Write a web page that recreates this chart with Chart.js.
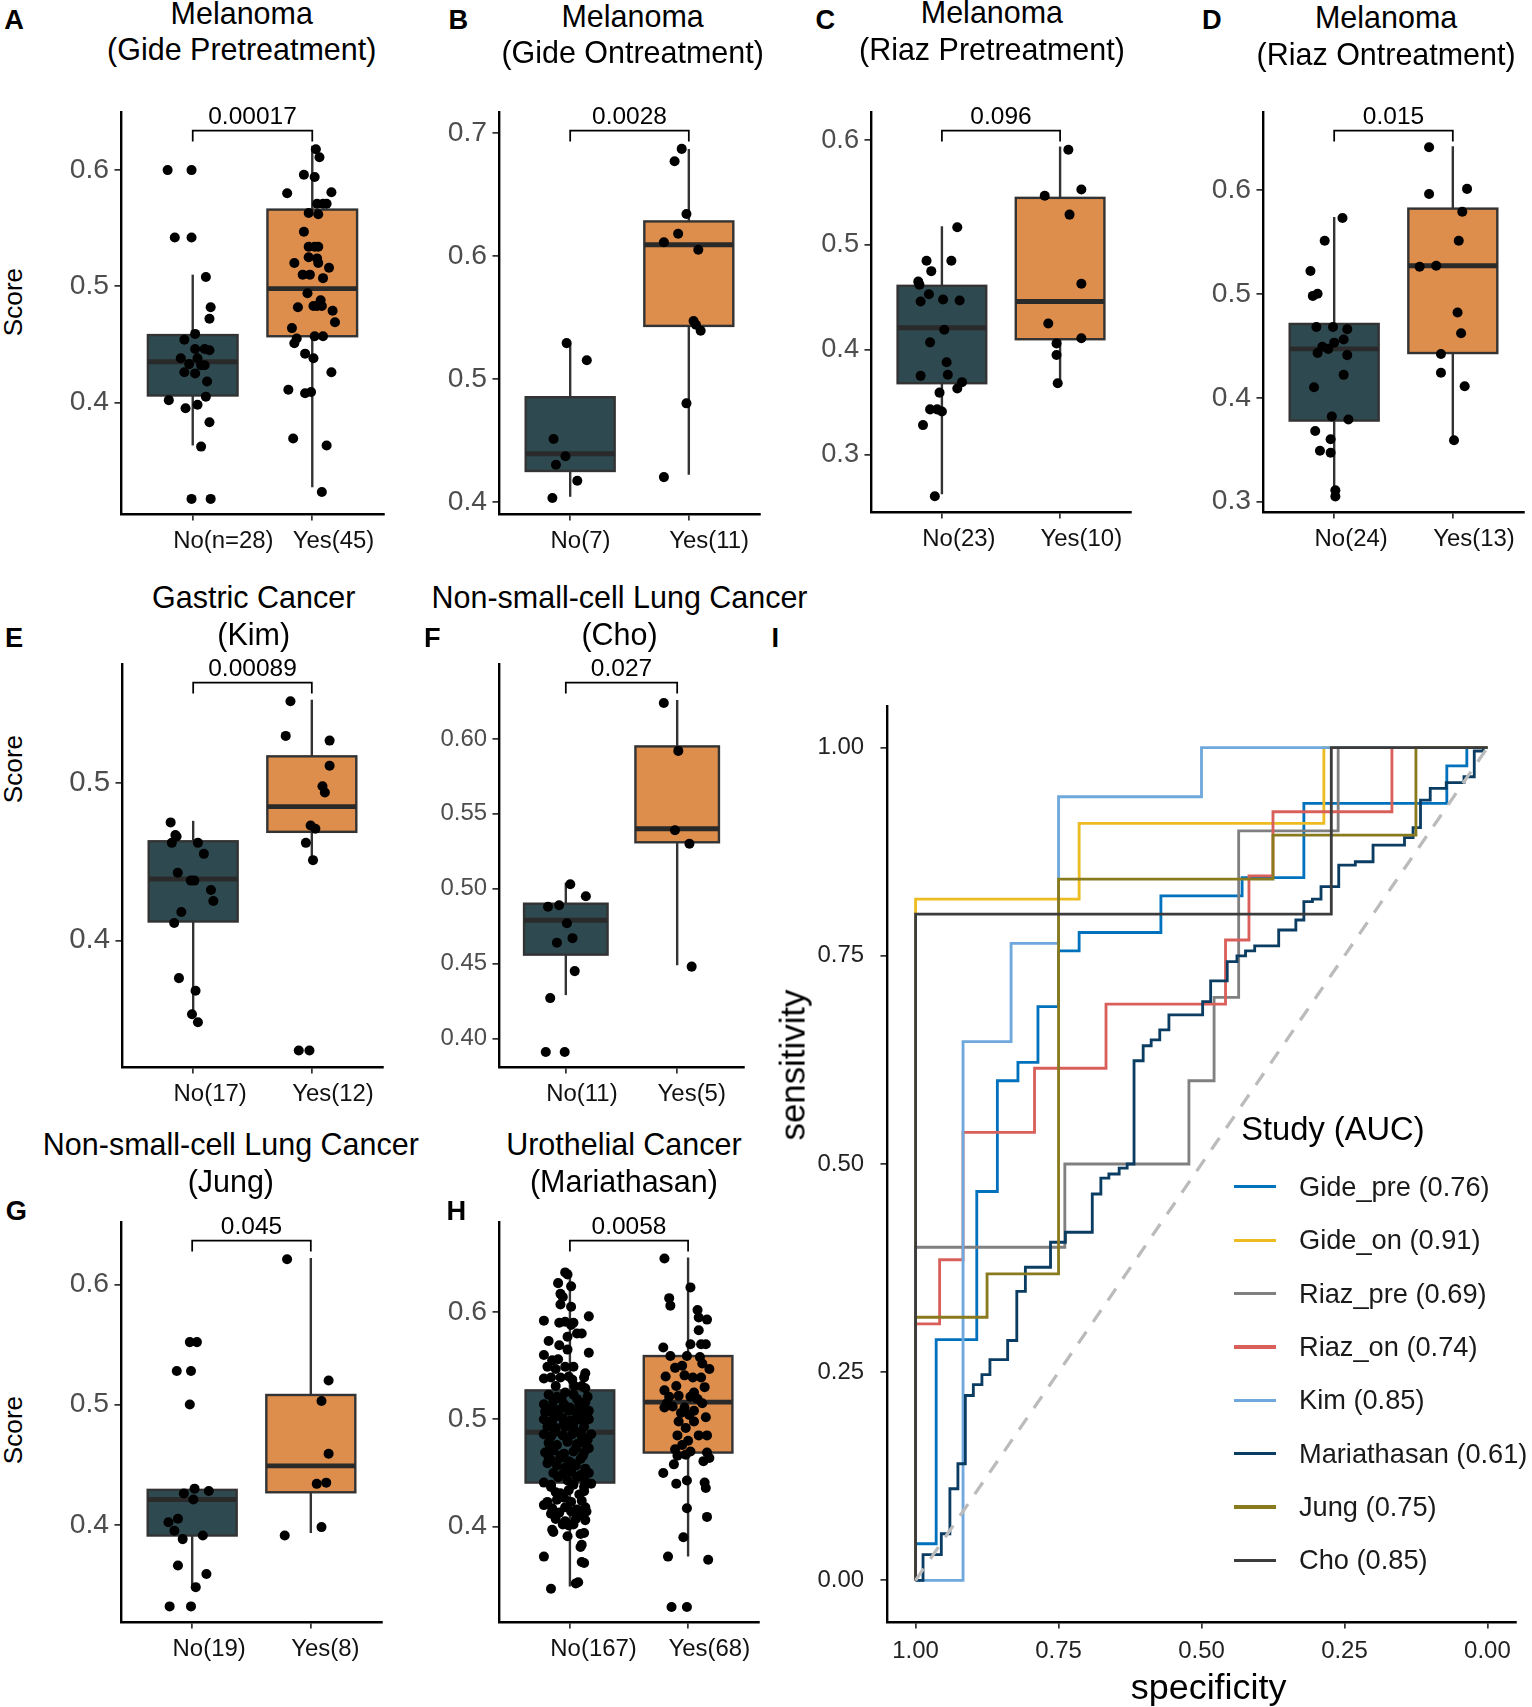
<!DOCTYPE html>
<html lang="en">
<head>
<meta charset="UTF-8">
<title>Score by response and ROC curves</title>
<script src="https://cdn.jsdelivr.net/npm/chart.js"></script>
<style>
body { margin: 0; background: #fff; }
#fig { position: relative; width: 1532px; height: 1707px; overflow: hidden; font-family: "Liberation Sans", Arial, sans-serif; }
.t { position: absolute; white-space: nowrap; color: #000; line-height: 1; }
canvas { position: absolute; }
</style>
</head>
<body>
<div id="fig"></div>
<script>
// ---- box panels: [jitter, score] per patient, box = [lower whisker, q1, median, q3, upper whisker]
const aLabels = ['No(n=28)', 'Yes(45)'];
const aTicks = [0.4, 0.5, 0.6];
const aBox = [[0.363, 0.406, 0.435, 0.458, 0.510], [0.327, 0.457, 0.498, 0.566, 0.621]];
const aNo = [[-0.21,0.600],[-0.01,0.600],[-0.15,0.542],[-0.01,0.542],[0.11,0.508],[0.15,0.482],[0.14,0.472],[0.02,0.459],[-0.07,0.454],[0.02,0.446],[0.10,0.446],[0.14,0.445],[-0.10,0.438],[0.04,0.438],[-0.03,0.433],[0.07,0.432],[0.10,0.432],[-0.07,0.426],[0.02,0.425],[0.12,0.418],[0.11,0.405],[0.04,0.398],[-0.20,0.402],[-0.06,0.395],[0.14,0.383],[0.07,0.362],[-0.01,0.317],[0.15,0.317]];
const aYes = [[0.03,0.618],[0.06,0.611],[-0.07,0.596],[0.02,0.594],[-0.21,0.580],[0.16,0.581],[0.04,0.571],[0.09,0.571],[0.12,0.571],[-0.03,0.563],[0.05,0.562],[-0.07,0.547],[-0.03,0.534],[0.02,0.534],[0.05,0.534],[-0.03,0.525],[0.04,0.524],[-0.15,0.520],[0.05,0.520],[0.14,0.516],[-0.08,0.510],[-0.02,0.510],[0.09,0.507],[-0.04,0.494],[0.07,0.488],[0.01,0.483],[0.04,0.483],[0.08,0.483],[-0.12,0.482],[0.17,0.479],[0.19,0.469],[-0.17,0.464],[-0.13,0.455],[-0.15,0.451],[0.02,0.457],[0.09,0.457],[-0.06,0.442],[0.01,0.438],[0.16,0.426],[-0.20,0.411],[-0.06,0.408],[-0.01,0.409],[-0.16,0.369],[0.12,0.363],[0.08,0.323]];

const bLabels = ['No(7)', 'Yes(11)'];
const bTicks = [0.4, 0.5, 0.6, 0.7];
const bBox = [[0.404, 0.425, 0.439, 0.485, 0.529], [0.422, 0.543, 0.609, 0.628, 0.687]];
const bNo = [[-0.03,0.529],[0.14,0.515],[-0.14,0.451],[-0.04,0.437],[-0.12,0.430],[0.06,0.417],[-0.15,0.403]];
const bYes = [[-0.06,0.687],[-0.12,0.677],[-0.02,0.634],[-0.09,0.618],[-0.21,0.611],[0.08,0.605],[0.04,0.547],[0.06,0.544],[0.10,0.539],[-0.02,0.480],[-0.21,0.420]];

const cLabels = ['No(23)', 'Yes(10)'];
const cTicks = [0.3, 0.4, 0.5, 0.6];
const cBox = [[0.262, 0.368, 0.421, 0.461, 0.518], [0.367, 0.410, 0.446, 0.545, 0.594]];
const cNo = [[0.13,0.517],[-0.13,0.485],[0.08,0.485],[-0.09,0.475],[-0.20,0.465],[-0.19,0.462],[-0.11,0.453],[-0.18,0.446],[0.01,0.448],[0.15,0.447],[0.02,0.419],[-0.10,0.407],[0.04,0.388],[-0.18,0.375],[0.05,0.376],[0.17,0.369],[0.13,0.363],[-0.02,0.359],[-0.04,0.343],[0.00,0.341],[-0.10,0.343],[-0.16,0.328],[-0.06,0.260]];
const cYes = [[0.07,0.591],[-0.13,0.547],[0.18,0.553],[0.08,0.529],[0.18,0.463],[-0.10,0.425],[0.18,0.411],[-0.03,0.406],[-0.03,0.395],[-0.02,0.368]];

const dLabels = ['No(24)', 'Yes(13)'];
const dTicks = [0.3, 0.4, 0.5, 0.6];
const dBox = [[0.308, 0.378, 0.447, 0.471, 0.574], [0.359, 0.443, 0.527, 0.582, 0.642]];
const dNo = [[0.07,0.573],[-0.08,0.551],[-0.20,0.522],[-0.18,0.498],[-0.14,0.500],[-0.15,0.468],[-0.01,0.468],[0.11,0.466],[0.08,0.456],[0.00,0.453],[-0.10,0.449],[-0.05,0.447],[-0.14,0.443],[0.11,0.441],[0.08,0.422],[-0.17,0.410],[-0.02,0.382],[0.12,0.379],[-0.16,0.368],[-0.03,0.360],[-0.12,0.349],[-0.03,0.347],[0.01,0.311],[0.01,0.305]];
const dYes = [[-0.20,0.641],[-0.20,0.596],[0.12,0.601],[0.08,0.579],[0.05,0.551],[-0.28,0.526],[-0.14,0.527],[0.04,0.482],[0.07,0.462],[-0.10,0.442],[-0.10,0.424],[0.10,0.411],[0.01,0.359]];

const eLabels = ['No(17)', 'Yes(12)'];
const eTicks = [0.4, 0.5];
const eBox = [[0.352, 0.412, 0.439, 0.463, 0.476], [0.453, 0.469, 0.485, 0.517, 0.553]];
const eNo = [[-0.19,0.475],[-0.15,0.467],[-0.14,0.466],[-0.18,0.462],[0.04,0.462],[0.09,0.455],[-0.13,0.443],[-0.02,0.438],[0.01,0.438],[0.15,0.432],[0.17,0.425],[-0.10,0.418],[-0.16,0.411],[-0.12,0.376],[0.02,0.368],[-0.01,0.353],[0.04,0.348]];
const eYes = [[-0.18,0.552],[-0.22,0.530],[0.15,0.527],[0.15,0.511],[0.09,0.498],[0.11,0.494],[-0.01,0.473],[0.03,0.471],[-0.05,0.462],[0.01,0.451],[-0.11,0.330],[-0.02,0.330]];

const fLabels = ['No(11)', 'Yes(5)'];
const fTicks = [0.40, 0.45, 0.50, 0.55, 0.60];
const fBox = [[0.429, 0.456, 0.479, 0.490, 0.504], [0.449, 0.531, 0.540, 0.595, 0.626]];
const fNo = [[0.04,0.503],[0.18,0.495],[-0.16,0.488],[-0.06,0.489],[0.01,0.477],[0.06,0.467],[-0.08,0.464],[0.08,0.445],[-0.14,0.427],[-0.18,0.391],[-0.01,0.391]];
const fYes = [[-0.12,0.624],[0.01,0.592],[-0.02,0.539],[0.11,0.530],[0.13,0.448]];

const gLabels = ['No(19)', 'Yes(8)'];
const gTicks = [0.4, 0.5, 0.6];
const gBox = [[0.349, 0.391, 0.421, 0.429, 0.429], [0.393, 0.427, 0.449, 0.508, 0.622]];
const gNo = [[-0.02,0.552],[0.04,0.552],[-0.13,0.528],[-0.01,0.528],[-0.02,0.500],[0.02,0.430],[0.14,0.428],[-0.07,0.426],[0.01,0.421],[-0.12,0.405],[-0.20,0.402],[-0.15,0.395],[0.09,0.391],[-0.08,0.388],[-0.12,0.366],[0.12,0.359],[0.03,0.348],[-0.19,0.332],[-0.01,0.332]];
const gYes = [[-0.20,0.621],[0.15,0.520],[0.09,0.503],[0.15,0.459],[0.05,0.434],[0.13,0.435],[0.09,0.398],[-0.22,0.391]];

const hLabels = ['No(167)', 'Yes(68)'];
const hTicks = [0.4, 0.5, 0.6];
const hBox = [[0.344, 0.441, 0.488, 0.527, 0.639], [0.372, 0.469, 0.516, 0.559, 0.651]];
const hNo = [[-0.04,0.637],[-0.02,0.635],[-0.10,0.627],[0.01,0.624],[-0.08,0.617],[-0.06,0.614],[-0.08,0.607],[0.01,0.605],
  [-0.22,0.592],[0.16,0.596],[-0.09,0.590],[-0.04,0.591],[0.01,0.588],[0.03,0.590],[0.06,0.580],[0.10,0.580],[-0.02,0.577],
  [-0.18,0.573],[-0.09,0.569],[-0.22,0.560],[-0.02,0.565],[0.16,0.562],[-0.15,0.555],[-0.10,0.556],
  [-0.19,0.549],[-0.12,0.547],[-0.04,0.549],[0.03,0.549],[0.13,0.543],[0.12,0.539],
  [-0.22,0.538],[-0.16,0.539],[-0.08,0.539],[-0.01,0.540],[0.02,0.537],[0.13,0.529],[0.15,0.521],
  [-0.18,0.523],[-0.11,0.521],[-0.04,0.525],[0.03,0.523],
  [-0.22,0.514],[-0.14,0.517],[-0.05,0.514],[0.08,0.514],[0.13,0.516],
  [-0.21,0.507],[-0.16,0.507],[-0.09,0.509],[-0.01,0.508],[0.05,0.507],[0.10,0.510],[0.16,0.508],
  [-0.22,0.500],[-0.15,0.499],[-0.06,0.501],[0.01,0.499],[0.09,0.500],[0.16,0.500],
  [-0.19,0.493],[-0.12,0.492],[-0.04,0.493],[0.03,0.491],[0.12,0.493],
  [-0.22,0.486],[-0.16,0.484],[-0.06,0.485],[0.02,0.486],[0.10,0.484],[0.18,0.486],
  [-0.18,0.478],[-0.11,0.476],[-0.02,0.479],[0.06,0.477],[0.13,0.477],
  [-0.21,0.469],[-0.14,0.471],[-0.05,0.468],[0.03,0.470],[0.12,0.469],[0.16,0.473],
  [-0.18,0.464],[-0.16,0.462],[-0.08,0.464],[-0.01,0.461],[0.09,0.463],
  [-0.11,0.457],[-0.04,0.455],[0.05,0.457],[0.13,0.454],
  [-0.14,0.450],[-0.06,0.449],[0.01,0.451],[0.09,0.448],[0.16,0.450],
  [-0.22,0.441],[-0.16,0.439],[-0.02,0.443],[0.03,0.439],[0.13,0.442],[0.18,0.440],
  [-0.12,0.432],[-0.08,0.431],[-0.01,0.434],[0.08,0.430],[0.12,0.433],
  [-0.19,0.423],[-0.11,0.425],[0.01,0.423],[0.10,0.424],
  [-0.22,0.420],[-0.15,0.417],[-0.04,0.418],[0.06,0.416],[0.13,0.418],
  [-0.16,0.412],[-0.09,0.413],[0.01,0.414],[0.09,0.411],[0.14,0.414],
  [-0.12,0.407],[-0.04,0.405],[0.05,0.407],[0.13,0.406],
  [-0.06,0.402],[-0.01,0.401],[0.03,0.402],[-0.15,0.397],[-0.14,0.395],
  [-0.02,0.391],[0.09,0.393],[0.12,0.394],[0.10,0.383],[0.09,0.381],[-0.22,0.372],
  [0.10,0.367],[0.12,0.366],[0.07,0.348],[0.05,0.347],[-0.16,0.342],
  [-0.12,0.531],[0.04,0.531],[0.10,0.531],[-0.07,0.519],[0.06,0.519],[-0.15,0.511],[0.00,0.511],
  [-0.11,0.503],[0.07,0.503],[0.14,0.503],[-0.05,0.496],[0.03,0.496],[-0.13,0.488],[0.09,0.488],
  [-0.02,0.481],[0.15,0.481],[-0.17,0.473],[0.05,0.473],[-0.08,0.466],[0.11,0.466],[-0.19,0.459],
  [0.02,0.459],[-0.10,0.446],[0.06,0.446],[-0.16,0.437],[0.12,0.437],[-0.05,0.427]];
const hYes = [[-0.20,0.650],[0.02,0.623],[-0.16,0.613],[-0.15,0.606],[0.08,0.602],[0.16,0.593],[0.09,0.595],[0.09,0.583],
  [-0.21,0.567],[0.02,0.570],[0.11,0.570],[0.15,0.570],[-0.15,0.559],[-0.01,0.559],[0.10,0.558],[-0.11,0.548],[0.18,0.547],
  [-0.19,0.540],[-0.03,0.541],[0.04,0.539],[0.11,0.539],[-0.10,0.531],[0.14,0.530],[-0.20,0.527],
  [-0.16,0.521],[-0.08,0.522],[0.02,0.521],[0.08,0.519],[-0.20,0.511],[-0.13,0.512],[-0.03,0.511],[0.05,0.508],
  [-0.06,0.506],[0.01,0.504],[0.15,0.502],[-0.02,0.492],[-0.09,0.485],[0.09,0.485],[0.16,0.485],
  [-0.05,0.476],[-0.11,0.472],[-0.09,0.466],[0.02,0.470],[-0.02,0.467],[0.16,0.469],[0.18,0.464],[0.13,0.461],
  [-0.21,0.450],[-0.10,0.440],[-0.01,0.443],[0.14,0.441],[0.15,0.436],[-0.01,0.417],[0.16,0.409],[-0.04,0.390],
  [-0.17,0.372],[0.17,0.369],[-0.14,0.325],[-0.01,0.325],
  [-0.05,0.550],[0.12,0.552],[0.05,0.525],[-0.18,0.515],[0.12,0.515],[-0.08,0.498],[0.05,0.498],[0.00,0.480],[-0.12,0.458]];

// ---- ROC curves: corner points (specificity, sensitivity), drawn as steps
const rocNames = ['Gide_pre', 'Gide_on', 'Riaz_pre', 'Riaz_on', 'Kim', 'Mariathasan', 'Jung', 'Cho'];
const rocAuc = [0.76, 0.91, 0.69, 0.74, 0.85, 0.61, 0.75, 0.85];
const gidePreSpec = [1, 0.964, 0.893, 0.857, 0.821, 0.786, 0.750, 0.714, 0.571, 0.429, 0.321, 0.071, 0.036, 0];
const gidePreSens = [0, 0.044, 0.289, 0.467, 0.600, 0.622, 0.689, 0.756, 0.778, 0.822, 0.844, 0.933, 0.978, 1];
const gideOnSpec = [1, 0.714, 0.286, 0];
const gideOnSens = [0, 0.818, 0.909, 1];
const riazPreSpec = [1, 0.739, 0.522, 0.478, 0.435, 0.261, 0];
const riazPreSens = [0, 0.400, 0.500, 0.600, 0.700, 0.900, 1];
const riazOnSpec = [1, 0.958, 0.917, 0.792, 0.667, 0.458, 0.417, 0.375, 0.167, 0];
const riazOnSens = [0, 0.308, 0.385, 0.538, 0.615, 0.692, 0.769, 0.846, 0.923, 1];
const kimSpec = [1, 0.917, 0.833, 0.750, 0.500, 0];
const kimSens = [0, 0, 0.647, 0.765, 0.941, 1];
const mariSpec = [1, 0.987, 0.955, 0.940, 0.926, 0.913, 0.899, 0.884, 0.870, 0.839, 0.823, 0.808, 0.764, 0.738, 0.691, 0.676, 0.662, 0.644, 0.630, 0.618,
  0.602, 0.588, 0.573, 0.557, 0.498, 0.484, 0.455, 0.438, 0.423, 0.407, 0.365, 0.335, 0.321, 0.306, 0.291, 0.260, 0.231, 0.200, 0.145, 0.130, 0.117, 0.100, 0.072, 0.041, 0.023, 0.007, 0];
const mariSens = [0, 0, 0.031, 0.056, 0.110, 0.140, 0.222, 0.235, 0.247, 0.265, 0.288, 0.347, 0.376, 0.406, 0.418, 0.464, 0.483, 0.488, 0.495, 0.500,
  0.624, 0.642, 0.649, 0.661, 0.679, 0.695, 0.720, 0.743, 0.750, 0.756, 0.762, 0.781, 0.793, 0.815, 0.818, 0.833, 0.859, 0.863, 0.883, 0.892, 0.904, 0.937, 0.951, 0.958, 0.965, 0.996, 1];
const jungSpec = [1, 0.875, 0.750, 0.375, 0.125, 0];
const jungSens = [0, 0.316, 0.368, 0.842, 0.895, 1];
const choSpec = [1, 0.273, 0];
const choSens = [0, 0.800, 1];
const rocTicks = [0, 0.25, 0.5, 0.75, 1];

const rocSpec = [gidePreSpec, gideOnSpec, riazPreSpec, riazOnSpec, kimSpec, mariSpec, jungSpec, choSpec];
const rocSens = [gidePreSens, gideOnSens, riazPreSens, riazOnSens, kimSens, mariSens, jungSens, choSens];
const rocColors = ['#0072BD', '#EDBB22', '#808080', '#D9605A', '#6FA8DC', '#0B3D63', '#8A7A1E', '#3C3C3C'];
const boxFill = ['#2E4A50', '#DD8D4C'];

// ---- layout (measured on a 1407 px wide copy, scaled to the page)
var S = 1532 / 1407;
function s(v) { return v * S; }
var FONT = '"Liberation Sans", Arial, sans-serif';
Chart.defaults.font.family = FONT;
var fig = document.getElementById('fig');

function addText(txt, x, y, size, o) {
    o = o || {};
    var d = document.createElement('div');
    d.className = 't';
    d.textContent = txt;
    d.style.fontSize = s(size) + 'px';
    d.style.left = s(x) + 'px';
    d.style.top = s(y) + 'px';
    if (o.bold) d.style.fontWeight = 'bold';
    if (o.color) d.style.color = o.color;
    var tr = o.left ? 'translate(0,-50%)' : 'translate(-50%,-50%)';
    if (o.rot) tr += ' rotate(-90deg)';
    d.style.transform = tr;
    fig.appendChild(d);
}

function boxPlugin(p) {
    return {
        id: 'boxes',
        beforeDatasetsDraw: function (chart) {
            var ctx = chart.ctx, xs = chart.scales.x, ys = chart.scales.y;
            p.box.forEach(function (b, i) {
                var xc = xs.getPixelForValue(i + 1);
                var hw = xs.getPixelForValue(i + 1.375) - xc;
                var lo = ys.getPixelForValue(b[0]), q1 = ys.getPixelForValue(b[1]);
                var md = ys.getPixelForValue(b[2]), q3 = ys.getPixelForValue(b[3]), hi = ys.getPixelForValue(b[4]);
                ctx.save();
                ctx.strokeStyle = '#333';
                ctx.lineWidth = s(2.2);
                ctx.beginPath(); ctx.moveTo(xc, lo); ctx.lineTo(xc, hi); ctx.stroke();
                ctx.fillStyle = boxFill[i];
                ctx.fillRect(xc - hw, q3, 2 * hw, q1 - q3);
                ctx.strokeRect(xc - hw, q3, 2 * hw, q1 - q3);
                ctx.lineWidth = s(4.5);
                ctx.strokeStyle = '#2A2A2A';
                ctx.beginPath(); ctx.moveTo(xc - hw, md); ctx.lineTo(xc + hw, md); ctx.stroke();
                ctx.restore();
            });
        },
        afterDraw: function (chart) {
            var ctx = chart.ctx, xs = chart.scales.x;
            var x1 = xs.getPixelForValue(1), x2 = xs.getPixelForValue(2), yb = chart.chartArea.top + s(17);
            ctx.save();
            ctx.strokeStyle = '#000';
            ctx.lineWidth = s(1.6);
            ctx.beginPath();
            ctx.moveTo(x1, yb + s(10)); ctx.lineTo(x1, yb); ctx.lineTo(x2, yb); ctx.lineTo(x2, yb + s(10));
            ctx.stroke();
            ctx.fillStyle = '#000';
            ctx.font = s(22.5) + 'px ' + FONT;
            ctx.textAlign = 'center';
            ctx.fillText(p.pval, (x1 + x2) / 2, yb - s(6));
            ctx.restore();
        }
    };
}

function axisStyle() {
    return {
        grid: { display: true, drawOnChartArea: false, drawTicks: true, tickLength: s(6), color: '#333', lineWidth: s(1.6) },
        border: { display: true, color: '#000', width: s(2.2) }
    };
}

function boxPanel(p) {
    var yw = Math.round(s(80)), pt = Math.round(s(40)), pr = Math.round(s(14)), xh = Math.round(s(46));
    var L = Math.round(s(p.L)), R = Math.round(s(p.R)), T = Math.round(s(p.T)), B = Math.round(s(p.B));
    var c = document.createElement('canvas');
    c.width = yw + (R - L) + pr;
    c.height = pt + (B - T) + xh;
    c.style.left = (L - yw) + 'px';
    c.style.top = (T - pt) + 'px';
    fig.appendChild(c);
    var pts = [];
    p.no.forEach(function (d) { pts.push({ x: 1 + d[0], y: d[1] }); });
    p.yes.forEach(function (d) { pts.push({ x: 2 + d[0], y: d[1] }); });
    var xa = axisStyle(), ya = axisStyle();
    xa.type = 'linear'; xa.min = 0.4; xa.max = 2.6;
    xa.afterBuildTicks = function (ax) { ax.ticks = [{ value: 1 }, { value: 2 }]; };
    xa.afterFit = function (ax) { ax.height = xh; ax.paddingLeft = 0; ax.paddingRight = 0; };
    xa.ticks = { callback: function (v) { return p.labels[Math.round(v) - 1]; }, align: 'start', labelOffset: -s(18),
        color: '#111', font: { size: s(22) }, padding: s(6), maxRotation: 0, autoSkip: false };
    ya.type = 'linear'; ya.min = p.ymin; ya.max = p.ymax;
    ya.afterBuildTicks = function (ax) { ax.ticks = p.ticks.map(function (v) { return { value: v }; }); };
    ya.afterFit = function (ax) { ax.width = yw; ax.paddingTop = 0; ax.paddingBottom = 0; };
    ya.ticks = { callback: function (v) { return v.toFixed(p.dig); }, color: '#4D4D4D', font: { size: s(p.fs) }, padding: s(5), autoSkip: false };
    new Chart(c, {
        type: 'scatter',
        data: { datasets: [{ data: pts, pointRadius: s(4.6), pointBackgroundColor: '#000', pointBorderWidth: 0, clip: false }] },
        options: {
            responsive: false, animation: false, events: [],
            layout: { padding: { top: pt, right: pr, left: 0, bottom: 0 } },
            plugins: { legend: { display: false }, tooltip: { enabled: false } },
            scales: { x: xa, y: ya }
        },
        plugins: [boxPlugin(p)]
    });
}

var panels = [
    { L: 111, R: 353, T: 103, B: 472, ymin: 0.304, ymax: 0.650, ticks: aTicks, dig: 1, fs: 26, labels: aLabels, box: aBox, no: aNo, yes: aYes, pval: '0.00017' },
    { L: 458, R: 698, T: 103, B: 472, ymin: 0.390, ymax: 0.717, ticks: bTicks, dig: 1, fs: 26, labels: bLabels, box: bBox, no: bNo, yes: bYes, pval: '0.0028' },
    { L: 800, R: 1039, T: 103, B: 470, ymin: 0.245, ymax: 0.627, ticks: cTicks, dig: 1, fs: 25, labels: cLabels, box: cBox, no: cNo, yes: cYes, pval: '0.096' },
    { L: 1160, R: 1400, T: 103, B: 470, ymin: 0.290, ymax: 0.675, ticks: dTicks, dig: 1, fs: 26, labels: dLabels, box: dBox, no: dNo, yes: dYes, pval: '0.015' },
    { L: 112, R: 352, T: 610, B: 980, ymin: 0.3195, ymax: 0.5757, ticks: eTicks, dig: 1, fs: 27, labels: eLabels, box: eBox, no: eNo, yes: eYes, pval: '0.00089' },
    { L: 458, R: 683, T: 610, B: 980, ymin: 0.381, ymax: 0.650, ticks: fTicks, dig: 2, fs: 22, labels: fLabels, box: fBox, no: fNo, yes: fYes, pval: '0.027' },
    { L: 111, R: 351, T: 1122, B: 1490, ymin: 0.319, ymax: 0.652, ticks: gTicks, dig: 1, fs: 26, labels: gLabels, box: gBox, no: gNo, yes: gYes, pval: '0.045' },
    { L: 458, R: 697, T: 1122, B: 1490, ymin: 0.311, ymax: 0.684, ticks: hTicks, dig: 1, fs: 26, labels: hLabels, box: hBox, no: hNo, yes: hYes, pval: '0.0058' }
];
panels.forEach(boxPanel);

// ---- ROC panel
(function () {
    var yw = Math.round(s(90)), pt = Math.round(s(20)), pr = Math.round(s(20)), xh = Math.round(s(46));
    var L = Math.round(s(815)), R = Math.round(s(1392)), T = Math.round(s(648)), B = Math.round(s(1490));
    var c = document.createElement('canvas');
    c.width = yw + (R - L) + pr;
    c.height = pt + (B - T) + xh;
    c.style.left = (L - yw) + 'px';
    c.style.top = (T - pt) + 'px';
    fig.appendChild(c);
    var sets = [{
        data: [{ x: 1, y: 0 }, { x: 0, y: 1 }], borderColor: '#BBBBBB', borderWidth: s(3),
        borderDash: [s(13), s(11)], pointRadius: 0, fill: false, order: 0
    }];
    rocNames.forEach(function (n, i) {
        sets.push({
            label: n,
            data: rocSpec[i].map(function (v, j) { return { x: v, y: rocSens[i][j] }; }),
            stepped: 'after', borderColor: rocColors[i], borderWidth: s(2.6), pointRadius: 0, fill: false,
            order: rocNames.length - i
        });
    });
    var xa = axisStyle(), ya = axisStyle();
    xa.type = 'linear'; xa.reverse = true; xa.min = -0.05; xa.max = 1.05;
    xa.afterBuildTicks = function (ax) { ax.ticks = rocTicks.map(function (v) { return { value: v }; }); };
    xa.afterFit = function (ax) { ax.height = xh; ax.paddingLeft = 0; ax.paddingRight = 0; };
    xa.ticks = { callback: function (v) { return v.toFixed(2); }, color: '#222', font: { size: s(22) }, padding: s(8), maxRotation: 0, autoSkip: false };
    ya.type = 'linear'; ya.min = -0.05; ya.max = 1.05;
    ya.afterBuildTicks = function (ax) { ax.ticks = rocTicks.map(function (v) { return { value: v }; }); };
    ya.afterFit = function (ax) { ax.width = yw; ax.paddingTop = 0; ax.paddingBottom = 0; };
    ya.ticks = { callback: function (v) { return v.toFixed(2); }, color: '#222', font: { size: s(22) }, padding: s(15), autoSkip: false };
    new Chart(c, {
        type: 'line',
        data: { datasets: sets },
        options: {
            responsive: false, animation: false, events: [],
            layout: { padding: { top: pt, right: pr, left: 0, bottom: 0 } },
            plugins: { legend: { display: false }, tooltip: { enabled: false } },
            scales: { x: xa, y: ya }
        }
    });
})();

// ---- texts
addText('A', 13, 18, 25, { bold: true });
addText('B', 421, 18, 25, { bold: true });
addText('C', 758, 18, 25, { bold: true });
addText('D', 1113, 18, 25, { bold: true });
addText('E', 13, 586, 25, { bold: true });
addText('F', 397, 586, 25, { bold: true });
addText('I', 712, 586, 25, { bold: true });
addText('G', 15, 1112, 25, { bold: true });
addText('H', 419, 1112, 25, { bold: true });

addText('Melanoma', 222, 12, 28); addText('(Gide Pretreatment)', 222, 45, 28);
addText('Melanoma', 581, 15, 28); addText('(Gide Ontreatment)', 581, 48, 28);
addText('Melanoma', 911, 11, 28); addText('(Riaz Pretreatment)', 911, 45, 28);
addText('Melanoma', 1273, 16, 28); addText('(Riaz Ontreatment)', 1273, 50, 28);
addText('Gastric Cancer', 233, 548, 28); addText('(Kim)', 233, 582, 28);
addText('Non-small-cell Lung Cancer', 569, 548, 28); addText('(Cho)', 569, 582, 28);
addText('Non-small-cell Lung Cancer', 212, 1051, 28); addText('(Jung)', 212, 1085, 28);
addText('Urothelial Cancer', 573, 1051, 28); addText('(Mariathasan)', 573, 1085, 28);

addText('Score', 12, 277, 24, { rot: true });
addText('Score', 12, 706, 24, { rot: true });
addText('Score', 12, 1313, 24, { rot: true });

addText('sensitivity', 728, 978, 32, { rot: true });
addText('specificity', 1110, 1549, 33);

addText('Study (AUC)', 1140, 1037, 30, { left: true });
rocNames.forEach(function (n, i) {
    var y = 1090 + 49 * i;
    var sw = document.createElement('div');
    sw.style.position = 'absolute';
    sw.style.left = s(1133) + 'px';
    sw.style.top = (s(y) - s(1.5)) + 'px';
    sw.style.width = s(39) + 'px';
    sw.style.height = s(3) + 'px';
    sw.style.background = rocColors[i];
    fig.appendChild(sw);
    addText(n + ' (' + rocAuc[i].toFixed(2) + ')', 1193, y, 25, { left: true, color: '#1a1a1a' });
});
</script>
</body>
</html>
